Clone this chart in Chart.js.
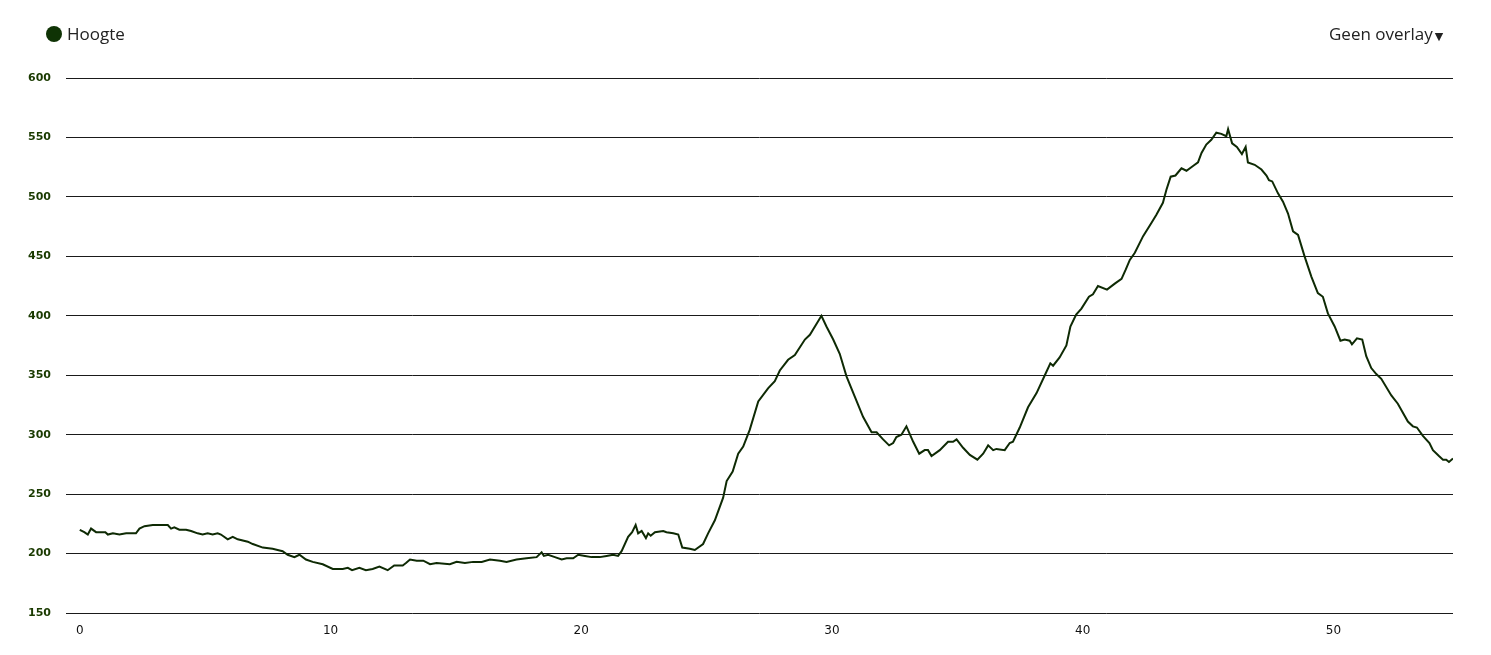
<!DOCTYPE html>
<html>
<head>
<meta charset="utf-8">
<script src="https://cdn.jsdelivr.net/npm/chart.js@4/dist/chart.umd.min.js"></script>
<style>
  html, body { margin: 0; padding: 0; background: #fff; }
  #wrap { position: relative; width: 1491px; height: 655px; overflow: hidden; }
  #c { position: absolute; left: 0; top: 0; }
  .leg { position: absolute; font-family: "Open Sans", sans-serif; font-size: 17px; color: #222; line-height: 24px; }
  #dot { position: absolute; left: 46px; top: 26px; width: 16px; height: 16px; border-radius: 50%; background: #0f3305; }
</style>
</head>
<body>
<div id="wrap">
  <canvas id="c" width="1491" height="655"></canvas>
  <div id="dot"></div>
  <div class="leg" style="left:67px; top:22px;">Hoogte</div>
  <div class="leg" style="left:1329px; top:22px;">Geen overlay<span style="font-family:'DejaVu Sans',sans-serif;font-size:11px;margin-left:2px;">▼</span></div>
</div>
<script>
const distanceKm = [0,0.18,0.32,0.45,0.65,0.85,1.02,1.12,1.32,1.58,1.85,2.24,2.38,2.58,2.91,3.11,3.51,3.64,3.77,3.97,4.24,4.44,4.70,4.90,5.10,5.30,5.50,5.63,5.90,6.10,6.30,6.70,6.90,7.30,7.69,8.09,8.29,8.56,8.76,9.02,9.29,9.69,10.09,10.49,10.69,10.86,11.15,11.41,11.68,11.95,12.28,12.54,12.88,13.01,
13.17,13.44,13.70,13.97,14.23,14.76,15.03,15.36,15.69,16.03,16.36,16.76,17.02,17.42,17.82,18.22,18.42,18.51,18.68,18.95,19.22,19.42,19.68,19.88,20.15,20.41,20.74,21.01,21.27,21.47,21.61,21.87,22.03,22.17,22.27,22.41,22.58,22.67,22.77,22.94,23.27,23.40,23.67,23.87,24.03,24.33,24.53,24.86,
25.06,25.33,25.66,25.80,26.04,26.26,26.46,26.72,27.06,27.45,27.72,27.92,28.25,28.52,28.92,29.12,29.58,29.78,30.05,30.31,30.58,30.91,31.24,31.58,31.78,32.04,32.28,32.44,32.57,32.77,32.97,33.24,33.48,33.70,33.83,33.97,34.30,34.63,34.83,34.97,35.23,35.50,35.80,36.03,36.23,36.43,36.56,36.89,37.09,37.22,37.49,37.82,38.16,38.49,38.71,38.82,39.08,39.35,39.51,39.74,39.95,40.25,40.41,40.61,40.97,41.28,41.55,41.72,41.88,42.08,42.41,42.74,42.94,43.20,43.34,43.51,43.70,43.94,44.14,44.40,44.60,44.74,44.93,45.13,45.33,45.53,45.73,45.80,45.96,46.15,46.35,46.50,46.59,46.86,47.13,47.33,47.43,47.56,47.79,47.99,48.19,48.39,48.59,48.85,49.12,49.38,49.58,49.78,50.05,50.28,50.45,50.65,50.74,50.94,51.15,51.31,51.51,51.71,51.91,52.31,52.57,52.97,53.17,53.33,53.57,53.83,53.97,54.21,54.37,54.50,54.61,54.77];

const elevationM = [220,218,216,221,218,218,218,216,217,216,217,217,221,223,224,224,224,221,222,220,220,219,217,216,217,216,217,216,212,214,212,210,208,205,204,202,199,197,199,195,193,191,187,187,188,186,188,186,187,189,186,190,190,192,
195,194,194,191,192,191,193,192,193,193,195,194,193,195,196,197,201,198,199,197,195,196,196,199,198,197,197,198,199,198,202,214,218,224,217,219,213,217,215,218,219,218,217,216,205,204,203,208,
217,228,247,261,269,284,290,304,328,339,345,354,363,367,380,384,400,391,380,368,349,332,315,302,302,296,291,293,298,300,307,294,284,287,287,282,287,294,294,296,289,283,279,284,291,287,288,287,293,294,306,323,335,350,360,358,365,375,391,401,406,416,418,425,422,427,431,439,447,453,467,478,485,495,506,517,518,524,522,526,529,537,544,548,554,553,551,557,545,542,536,542,529,527,523,518,514,513,503,496,486,471,468,450,433,419,416,402,391,379,380,379,376,381,380,366,356,351,347,333,326,311,307,306,299,293,287,282,279,279,277,280];

const xTickLabels = [0, 10, 20, 30, 40, 50];
const yTickLabels = [150, 200, 250, 300, 350, 400, 450, 500, 550, 600];
const seriesName = "Hoogte";

const points = distanceKm.map((d, i) => ({ x: d, y: elevationM[i] }));

new Chart(document.getElementById('c'), {
  type: 'line',
  data: {
    datasets: [{
      label: seriesName,
      data: points,
      borderColor: '#0e2a04',
      borderWidth: 2,
      pointRadius: 0,
      tension: 0,
      fill: false
    }]
  },
  options: {
    responsive: false,
    animation: false,
    layout: { padding: { top: 78, right: 38, left: 0, bottom: 0 } },
    plugins: { legend: { display: false }, tooltip: { enabled: false } },
    scales: {
      x: {
        type: 'linear',
        min: -0.55,
        max: 54.77,
        afterBuildTicks: s => { s.ticks = xTickLabels.map(v => ({ value: v })); },
        afterFit: s => { s.height = 42; },
        grid: { display: false },
        border: { display: false },
        ticks: { autoSkip: false, maxRotation: 0, padding: 3, color: '#111', font: { family: 'DejaVu Sans', size: 12 } }
      },
      y: {
        min: 150,
        max: 600,
        afterBuildTicks: s => { s.ticks = yTickLabels.map(v => ({ value: v })); },
        afterFit: s => { s.width = 66; },
        grid: { color: '#1a1a1a', lineWidth: 1, drawTicks: false },
        border: { display: false },
        ticks: { padding: 15, color: '#1a3a00', font: { family: 'DejaVu Sans', size: 11, weight: 'bold' } }
      }
    }
  }
});
</script>
</body>
</html>
